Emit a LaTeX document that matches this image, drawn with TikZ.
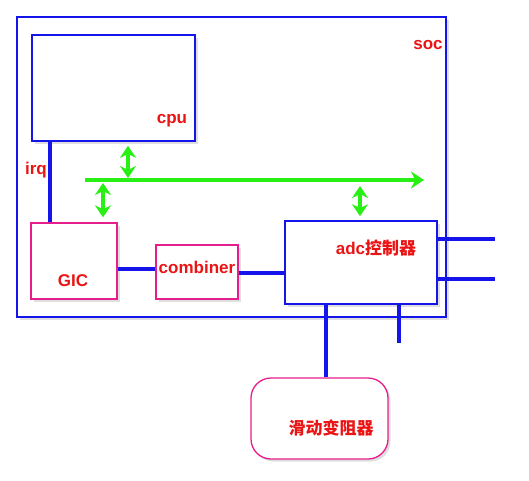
\documentclass[tikz,border=0pt]{standalone}
\usepackage{fontspec}
\setmainfont{Liberation Sans}
\newfontfamily\cjk{Noto Sans CJK SC}
\usetikzlibrary{arrows.meta,shadows}

\definecolor{wireblue}{RGB}{20,20,235}
\definecolor{boxpink}{RGB}{230,30,140}
\definecolor{textred}{RGB}{235,20,20}
\definecolor{busgreen}{RGB}{40,240,20}

\begin{document}
\begin{tikzpicture}[x=1pt,y=-1pt,
  blk/.style={draw=wireblue,line width=1.6pt,fill=white,inner sep=0pt,
    drop shadow={shadow xshift=2.5pt,shadow yshift=-2.5pt,opacity=0.25}},
  pblk/.style={blk,draw=boxpink,line width=1.3pt},
  lab/.style={text=textred,font=\fontsize{17}{19}\selectfont\bfseries,inner sep=0pt},
  wire/.style={wireblue,line width=3.5pt},
  dbl/.style={busgreen,line width=3.5pt,{Stealth[length=12pt,width=16pt]}-{Stealth[length=12pt,width=16pt]}}]
\useasboundingbox (0,0) rectangle (529,480);
% boxes
\node[blk,minimum width=429,minimum height=300] (soc) at (231.5,167) {};
\node[blk,minimum width=163,minimum height=106] (cpu) at (113.5,88) {};
\node[pblk,minimum width=86,minimum height=76] (gic) at (74,261) {};
\node[pblk,minimum width=82,minimum height=54] (combiner) at (197,272) {};
\node[blk,minimum width=152,minimum height=83] (adc) at (361,262.5) {};
\node[pblk,rounded corners=20pt,minimum width=137,minimum height=81] (slider) at (319.5,418.5) {};
% labels
\node[lab] (soclab) at (428,45) {soc};
\node[lab] (cpulab) at (172,121) {cpu};
\node[lab,anchor=east] (irqlab) at (47,170) {irq};
\node[lab] (giclab) at (73,281) {GIC};
\node[lab] (comblab) at (197,267) {combiner};
\node[lab] (adclab) at (376,248) {adc{\cjk 控制器}};
\node[lab] (sliderlab) at (331,428) {\cjk 滑动变阻器};
% bus
\coordinate (busL) at (85,180);
\coordinate (busR) at (424,180);
\coordinate (tapcpu) at (128,180);
\coordinate (tapgic) at (103,180);
\coordinate (tapadc) at (360,180);
\draw[busgreen,line width=4pt,-{Stealth[length=13pt,width=17pt]}] (busL) -- (busR);
\draw[dbl] ([yshift=-4pt]cpu.south -| tapcpu) -- ([yshift=2pt]tapcpu);
\draw[dbl] ([yshift=-3pt]tapgic) -- ([yshift=5pt]gic.north -| tapgic);
\draw[dbl] ([yshift=-6pt]tapadc) -- ([yshift=4pt]adc.north -| tapadc);
% wires
\coordinate (irq) at (50,0);
\coordinate (out1) at (495,239);
\coordinate (out2) at (495,279);
\coordinate (out3) at (399,343);
\coordinate (pot) at (326,0);
\draw[wire] (cpu.south -| irq) -- (gic.north -| irq);
\draw[wire] ([yshift=-8pt]gic.east) -- ([yshift=3pt]combiner.west);
\draw[wire] ([yshift=-1pt]combiner.east) -- (adc.west |- 0,273);
\draw[wire] (out1 -| adc.east) -- (out1);
\draw[wire] (out2 -| adc.east) -- (out2);
\draw[wire] (out3 |- adc.south) -- (out3);
\draw[wire] (adc.south -| pot) -- (slider.north -| pot);
\end{tikzpicture}
\end{document}
